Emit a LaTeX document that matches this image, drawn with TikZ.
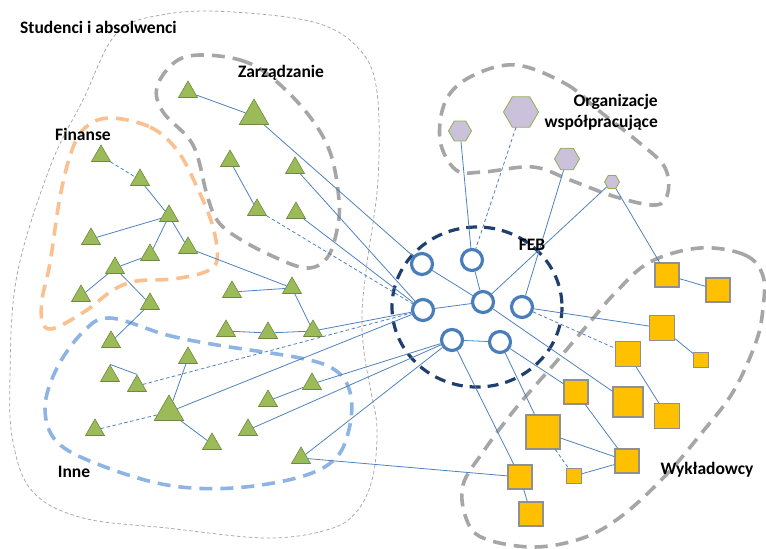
\documentclass[tikz,border=0pt]{standalone}
\usepackage{fontspec}
\setmainfont{Carlito}
\usetikzlibrary{shapes.geometric}
\definecolor{linkblue}{HTML}{4F81BD}
\definecolor{circblue}{HTML}{4A7EBB}
\definecolor{febnavy}{HTML}{1F3F6E}
\definecolor{trifill}{HTML}{9BBB59}
\definecolor{tridraw}{HTML}{71893F}
\definecolor{hexfill}{HTML}{CCC1DA}
\definecolor{hexdraw}{HTML}{8FAE55}
\definecolor{sqfill}{HTML}{FFC000}
\definecolor{sqdraw}{HTML}{909090}
\definecolor{grpgrey}{HTML}{A6A6A6}
\definecolor{grporange}{HTML}{FAC090}
\definecolor{grpblue}{HTML}{8EB4E3}
\tikzset{
  tri/.style={regular polygon, regular polygon sides=3, minimum size=22pt, inner sep=0pt, fill=trifill, draw=tridraw, line width=0.6pt},
  bigtri/.style={tri, minimum size=34pt},
  hexa/.style={regular polygon, regular polygon sides=6, inner sep=0pt, fill=hexfill, draw=hexdraw, line width=0.8pt},
  sq/.style={rectangle, inner sep=0pt, fill=sqfill, draw=sqdraw, line width=1.1pt},
  feb/.style={circle, minimum size=21pt, inner sep=0pt, fill=white, draw=circblue, line width=3.2pt},
  link/.style={draw=linkblue, line width=0.8pt},
  dlink/.style={link, dash pattern=on 3.5pt off 2.5pt},
  grpthick/.style={line width=3.6pt, dash pattern=on 13pt off 8pt},
  lbl/.style={font=\bfseries\fontsize{17.5}{21}\selectfont, inner sep=0pt}
}
\begin{document}
\begin{tikzpicture}[x=1pt,y=-1pt]
\useasboundingbox (0,0) rectangle (766,549);
% groups
\draw[grpgrey, line width=0.75pt, dash pattern=on 3.5pt off 2.5pt] plot[smooth cycle, tension=0.6] coordinates {(117,33) (167,14) (233,12) (317,23) (360,50) (377,92) (378,180) (367,263) (362,313) (364,352) (371,392) (377,428) (373,476) (358,510) (330,529) (267,538) (167,528) (83,518) (33,492) (13,442) (10,375) (17,275) (50,167) (83,100)};
\draw[grpgrey, grpthick] plot[smooth cycle, tension=0.6] coordinates {(200,55) (240,60) (270,76) (307,113) (330,152) (339,200) (337,230) (327,258) (306,268) (270,255) (235,236) (217,220) (207,195) (193,145) (163,112) (157,87) (175,62)};
\draw[grporange, grpthick] plot[smooth cycle, tension=0.6] coordinates {(110,118) (150,127) (177,150) (197,187) (213,227) (217,260) (205,272) (173,279) (137,281) (113,290) (87,310) (55,328) (43,324) (42,300) (50,263) (60,197) (72,150) (86,127)};
\draw[grpblue, grpthick] plot[smooth cycle, tension=0.6] coordinates {(110,318) (167,335) (217,345) (300,358) (335,370) (350,392) (350,425) (336,458) (300,477) (233,488) (167,485) (100,465) (57,442) (45,408) (57,368) (83,332)};
\draw[grpgrey, grpthick] plot[smooth cycle, tension=0.6] coordinates {(516,65) (566,84) (598,110) (636,140) (664,166) (668,192) (656,205) (616,197) (570,180) (533,167) (483,172) (456,170) (440,140) (446,100) (472,76)};
\draw[grpgrey, grpthick] plot[smooth cycle, tension=0.6] coordinates {(700,248) (745,255) (763,276) (763,308) (756,342) (733,392) (700,435) (666,475) (623,515) (583,538) (533,547) (483,538) (466,518) (463,485) (483,452) (516,408) (556,362) (590,322) (616,292) (650,262)};
\draw[febnavy, line width=3.2pt, dash pattern=on 11pt off 7pt] (477,307) ellipse [x radius=85, y radius=80];
% triangles
\node[tri] (t1) at (188,92) {};
\node[bigtri] (t2) at (254,116) {};
\node[tri] (t3) at (230,161) {};
\node[tri] (t4) at (295,168) {};
\node[tri] (t5) at (257,210) {};
\node[tri] (t6) at (296,213) {};
\node[tri] (t7) at (101,156) {};
\node[tri] (t8) at (140,180) {};
\node[tri] (t9) at (169,216) {};
\node[tri] (t10) at (91,239) {};
\node[tri] (t11) at (150,255) {};
\node[tri] (t12) at (188,248) {};
\node[tri] (t13) at (115,268) {};
\node[tri] (t14) at (81,296) {};
\node[tri] (t15) at (150,304) {};
\node[tri] (t16) at (232,292) {};
\node[tri] (t17) at (292,288) {};
\node[tri] (t18) at (226,331) {};
\node[tri] (t19) at (268,333) {};
\node[tri] (t20) at (313,331) {};
\node[tri] (t21) at (111,342) {};
\node[tri] (t22) at (188,358) {};
\node[tri] (t23) at (110,376) {};
\node[tri] (t24) at (137,386) {};
\node[bigtri] (t25) at (169,412) {};
\node[tri] (t26) at (312,384) {};
\node[tri] (t27) at (268,401) {};
\node[tri] (t28) at (95,430) {};
\node[tri] (t29) at (248,430) {};
\node[tri] (t30) at (212,444) {};
\node[tri] (t31) at (301,458) {};
% hexagons
\node[hexa, minimum size=23pt] (h1) at (460,131) {};
\node[hexa, minimum size=35pt] (h2) at (521,112) {};
\node[hexa, minimum size=25pt] (h3) at (567,159) {};
\node[hexa, minimum size=15pt] (h4) at (612,182) {};
% squares
\node[sq, minimum size=24pt] (s1) at (667,275) {};
\node[sq, minimum size=24pt] (s2) at (718,290) {};
\node[sq, minimum size=25pt] (s3) at (662,328) {};
\node[sq, minimum size=15pt] (s4) at (701,360) {};
\node[sq, minimum size=25pt] (s5) at (628,354) {};
\node[sq, minimum size=24pt] (s6) at (576,392) {};
\node[sq, minimum size=30pt] (s7) at (628,402) {};
\node[sq, minimum size=25pt] (s8) at (667,416) {};
\node[sq, minimum size=34pt] (s9) at (543,432) {};
\node[sq, minimum size=24pt] (s10) at (627,461) {};
\node[sq, minimum size=15pt] (s11) at (574,476) {};
\node[sq, minimum size=24pt] (s12) at (520,477) {};
\node[sq, minimum size=24pt] (s13) at (531,514) {};
% FEB circles
\node[feb] (c1) at (422,264) {};
\node[feb] (c2) at (472,260) {};
\node[feb] (c3) at (423,310) {};
\node[feb] (c4) at (483,302) {};
\node[feb] (c5) at (522,307) {};
\node[feb] (c6) at (452,340) {};
\node[feb] (c7) at (500,342) {};
% links
\path[link] (t1) -- (t2) (t2) -- (c1) (t3) -- (t5) (t4) -- (c3) (t6) -- (c3)
  (t8) -- (t9) (t9) -- (t10) (t9) -- (t11) (t9) -- (t12) (t11) -- (t13)
  (t13) -- (t14) (t13) -- (t15) (t15) -- (t21) (t12) -- (t17) (t16) -- (t17)
  (t17) -- (t20) (t18) -- (t19) (t19) -- (t20) (t20) -- (c3) (t25) -- (c3)
  (t23.north) -- (t24.north) (t22) -- (t25) (t25) -- (t30) (t27) -- (t26)
  (t26) -- (c6) (t29) -- (c6) (t31) -- (c6) (t31) -- (s12)
  (h1) -- (c2) (h3) -- (c5) (h4) -- (c4) (h4) -- (s1)
  (c1) -- (c4) (c2) -- (c4) (c3) -- (c4) (c6) -- (c7) (c4) -- (s7) (c5) -- (s3)
  (c7) -- (s6) (c7) -- (s9) (c6) -- (s12)
  (s1) -- (s2) (s3) -- (s4) (s5) -- (s8) (s6) -- (s10) (s9) -- (s10) (s11) -- (s10) (s12) -- (s13);
\path[dlink] (t5) -- (c3) (t7) -- (t8) (t24) -- (c3) (t28) -- (t25)
  (h2) -- (c2) (c5) -- (s5) (s9) -- (s11);
% labels
\node[lbl, anchor=west] (lstud) at (20,27) {Studenci i absolwenci};
\node[lbl] (lzarz) at (281,73) {Zarządzanie};
\node[lbl] (lfin) at (83,134) {Finanse};
\node[lbl, align=right, anchor=east] (lorg) at (658,112) {Organizacje\\współpracujące};
\node[lbl] (lfeb) at (532,245) {FEB};
\node[lbl] (linne) at (74,472) {Inne};
\node[lbl] (lwyk) at (707,470) {Wykładowcy};
\end{tikzpicture}
\end{document}
